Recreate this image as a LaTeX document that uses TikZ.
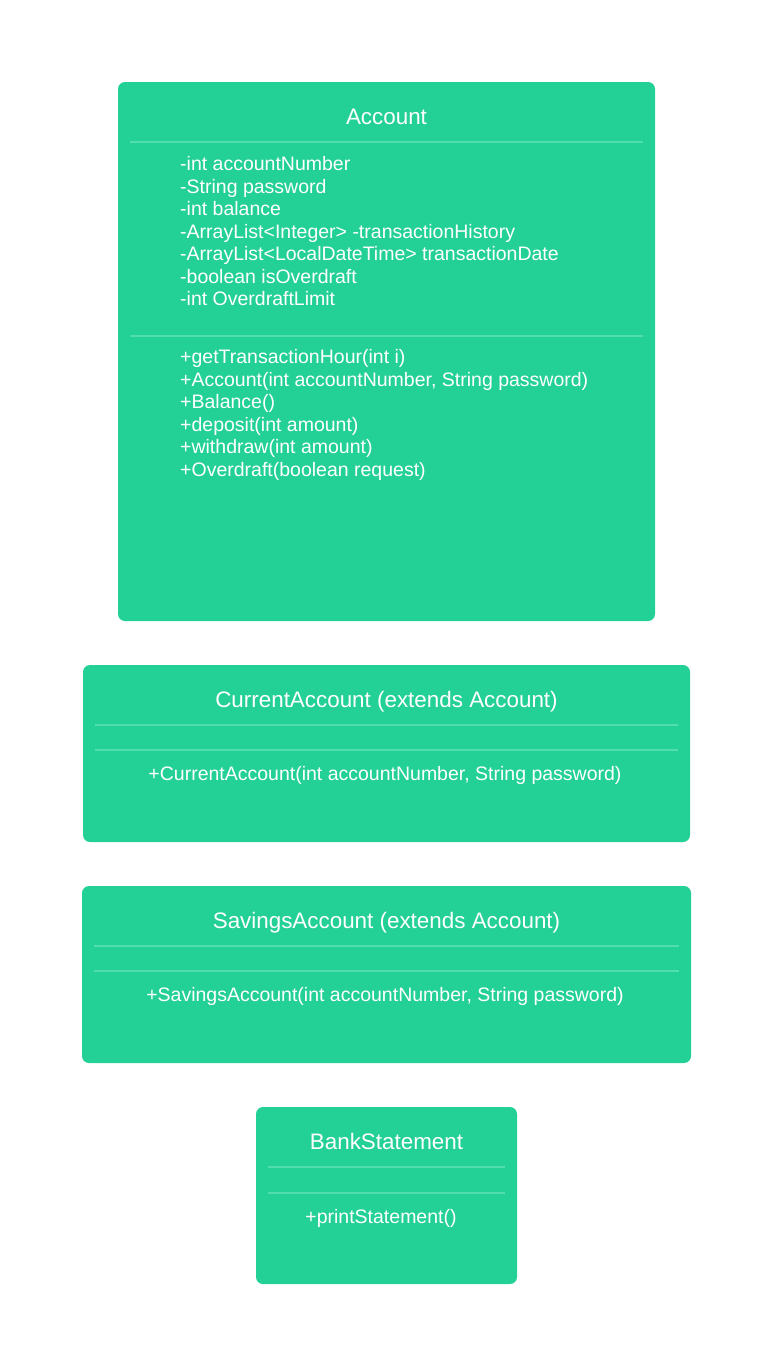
\documentclass[tikz,border=0pt]{standalone}
\usepackage{fontspec}
\setmainfont{Liberation Sans}
\definecolor{boxgreen}{HTML}{23D096}
\definecolor{divline}{HTML}{52DDAC}
\begin{document}
\begin{tikzpicture}[x=1pt,y=-1pt,
  umlbox/.style={draw=none, fill=boxgreen, rounded corners=7pt, inner sep=0pt, outer sep=0pt, anchor=north west},
  umltitle/.style={text=white, font=\fontsize{22.4}{26}\selectfont, inner sep=0pt, anchor=base},
  members/.style={text=white, font=\fontsize{19.5}{22.5}\selectfont, inner sep=0pt, align=left, anchor=north west},
  oneline/.style={text=white, font=\fontsize{19.5}{22.5}\selectfont, inner sep=0pt, anchor=base},
  divider/.style={draw=divline, line width=1.3pt}]
\useasboundingbox (0,0) rectangle (773,1366);

% Account
\node[umlbox, minimum width=537pt, minimum height=539pt] (acc) at (118,82) {};
\node[umltitle] (acctitle) at (386.5,124) {Account};
\draw[divider] (130,142) -- (643,142);
\node[members] (accattr) at (180,156.5) {\rule{0pt}{14pt}-int accountNumber\\
-String password\\
-int balance\\
-ArrayList<Integer> -transactionHistory\\
-ArrayList<LocalDateTime> transactionDate\\
-boolean isOverdraft\\
-int OverdraftLimit};
\draw[divider] (130,336) -- (643,336);
\node[members] (accmeth) at (180,349.5) {\rule{0pt}{14pt}+getTransactionHour(int i)\\
+Account(int accountNumber, String password)\\
+Balance()\\
+deposit(int amount)\\
+withdraw(int amount)\\
+Overdraft(boolean request)};

% CurrentAccount
\node[umlbox, minimum width=607pt, minimum height=177pt] (cur) at (83,665) {};
\node[umltitle] (curtitle) at (386.5,707) {CurrentAccount (extends Account)};
\draw[divider] (95,725) -- (678,725);
\draw[divider] (95,750) -- (678,750);
\node[oneline] (curmeth) at (385,780) {+CurrentAccount(int accountNumber, String password)};

% SavingsAccount
\node[umlbox, minimum width=609pt, minimum height=177pt] (sav) at (82,886) {};
\node[umltitle] (savtitle) at (386.5,928) {SavingsAccount (extends Account)};
\draw[divider] (94,946) -- (679,946);
\draw[divider] (94,971) -- (679,971);
\node[oneline] (savmeth) at (385,1001) {+SavingsAccount(int accountNumber, String password)};

% BankStatement
\node[umlbox, minimum width=261pt, minimum height=177pt] (bank) at (256,1107) {};
\node[umltitle] (banktitle) at (386.5,1149) {BankStatement};
\draw[divider] (268,1167) -- (505,1167);
\draw[divider] (268,1193) -- (505,1193);
\node[oneline] (bankmeth) at (381,1223) {+printStatement()};
\end{tikzpicture}
\end{document}
